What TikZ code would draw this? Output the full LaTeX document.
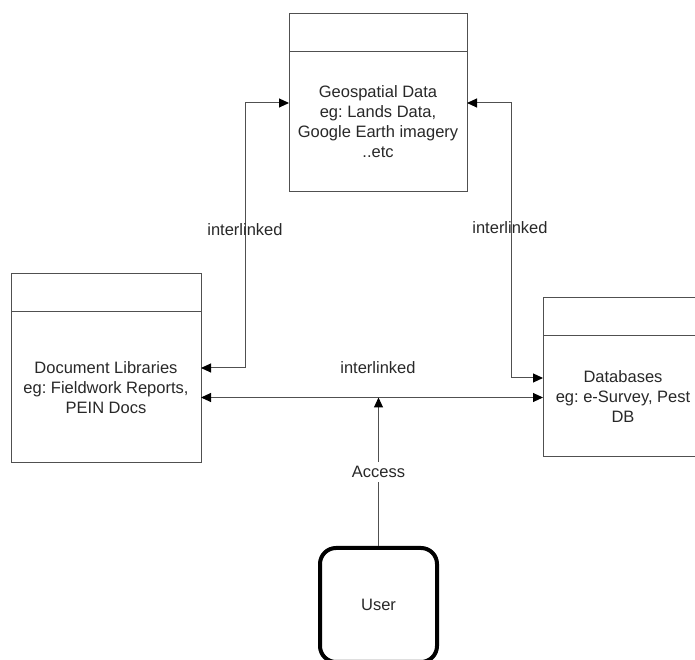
\documentclass[tikz,border=0pt]{standalone}
\usepackage{fontspec}
\setmainfont{Liberation Sans}
\usepackage{xcolor}
\usepackage{tikz}
\usetikzlibrary{positioning, calc, arrows.meta}
\frenchspacing

\definecolor{linegray}{RGB}{80,80,80}
\definecolor{textgray}{RGB}{40,40,40}

\tikzset{
	body/.style={draw=linegray, line width=1pt, outer sep=0pt, inner sep=0pt, align=center, text=textgray, font=\fontsize{16.5}{20}\selectfont},
	head/.style={draw=linegray, line width=1pt, outer sep=0pt, inner sep=0pt, minimum height=38pt},
	link/.style={draw=linegray, line width=1pt, {Triangle[length=10pt, width=9pt, color=black]}-{Triangle[length=10pt, width=9pt, color=black]}},
	lbl/.style={text=textgray, font=\fontsize{16.5}{20}\selectfont},
	userbox/.style={draw=black, line width=4pt, rounded corners=16pt, minimum width=117pt, minimum height=114pt, text=textgray, font=\fontsize{16.5}{20}\selectfont}
}

\begin{document}
\begin{tikzpicture}[x=1pt, y=1pt]
		
		\useasboundingbox (0,0) rectangle (695,660);
		
		%//the three stores
		\node [body, minimum width=178pt, minimum height=140pt] (geobody) at (378,538) {Geospatial Data\\eg: Lands Data,\\Google Earth imagery\\..etc};
		\node [head, minimum width=178pt, above=0pt of geobody] (geohead) {};
		
		\node [body, minimum width=190pt, minimum height=151pt] (docbody) at (106,272.5) {Document Libraries\\eg: Fieldwork Reports,\\PEIN Docs};
		\node [head, minimum width=190pt, above=0pt of docbody] (dochead) {};
		
		\node [body, minimum width=160pt, minimum height=121pt] (dbbody) at (623,263.5) {Databases\\eg: e-Survey, Pest\\DB};
		\node [head, minimum width=160pt, above=0pt of dbbody] (dbhead) {};
		
		\node [userbox] (user) at (378.5,55) {User};
		
		%//links between the stores
		\draw [link] ([yshift=19.5pt]docbody.east) -| ([xshift=-44pt, yshift=19pt]geobody.west) -- ([yshift=19pt]geobody.west);
		\draw [link] ([yshift=19pt]geobody.east) -| ([xshift=-32pt, yshift=18.5pt]dbbody.west) -- ([yshift=18.5pt]dbbody.west);
		\draw [link] ([yshift=-10pt]docbody.east) -- ([yshift=-1pt]dbbody.west);
		
		\coordinate (hub) at ([yshift=-10pt]docbody.east);
		\draw [draw=linegray, line width=1pt, -{Triangle[length=10pt, width=9pt, color=black]}] (user.north) -- node [lbl, fill=white, inner sep=4pt] (access) {Access} (user.north |- hub);
		
		\node [lbl] (linkleft) at (245,430) {interlinked};
		\node [lbl] (linkright) at (510,432) {interlinked};
		\node [lbl] (linkmid) at (378,292) {interlinked};
		
\end{tikzpicture}
\end{document}
